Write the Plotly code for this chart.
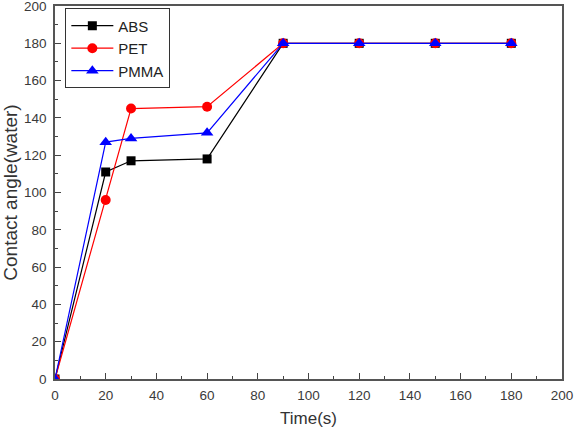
import plotly.graph_objects as go

time_s = [0, 20, 30, 60, 90, 120, 150, 180]
abs_vals = [0, 111, 117, 118, 180, 180, 180, 180]
pet_vals = [0, 96, 145, 146, 180, 180, 180, 180]
pmma_vals = [0, 127, 129, 132, 180, 180, 180, 180]

series = [
    ("ABS", abs_vals, "black", "square", 9),
    ("PET", pet_vals, "red", "circle", 10),
    ("PMMA", pmma_vals, "blue", "triangle-up", 11),
]

fig = go.Figure()
for name, vals, color, sym, size in series:
    fig.add_trace(go.Scatter(
        x=time_s, y=vals, name=name, mode="lines+markers",
        line=dict(color=color, width=1.2),
        marker=dict(symbol=sym, color=color, size=size),
    ))

axis_common = dict(
    showline=True, linecolor="#555", linewidth=1.5, mirror=True,
    ticks="inside", ticklen=6, tickwidth=1.3, tickcolor="#444",
    showgrid=False, zeroline=False, automargin=False,
    ticklabeloverflow="allow",
    tickfont=dict(family="Liberation Sans, Arial", size=13.5, color="#3a3a3a"),
    minor=dict(ticks="inside", ticklen=3, tickwidth=1.3, tickcolor="#444", dtick=10, showgrid=False),
)

fig.update_layout(
    width=579, height=433,
    margin=dict(l=55, r=17, t=6, b=54),
    paper_bgcolor="white", plot_bgcolor="white",
    font=dict(family="Liberation Sans, Arial", color="#333"),
    xaxis=dict(range=[0, 200], dtick=20, ticklabelstandoff=3,
               title=dict(text="Time(s)", font=dict(size=17, color="#333"), standoff=10), **axis_common),
    yaxis=dict(range=[0, 200], dtick=20, ticklabelstandoff=4,
               title=dict(text="Contact angle(water)", font=dict(size=19, color="#333"), standoff=6), **axis_common),
    legend=dict(x=0.02, y=0.994, xanchor="left", yanchor="top",
                bordercolor="#333", borderwidth=1.2, bgcolor="white",
                itemwidth=42,
                font=dict(size=15, family="Liberation Sans, Arial", color="#222"), tracegroupgap=0),
    showlegend=True,
)

fig.write_html("out.html")
